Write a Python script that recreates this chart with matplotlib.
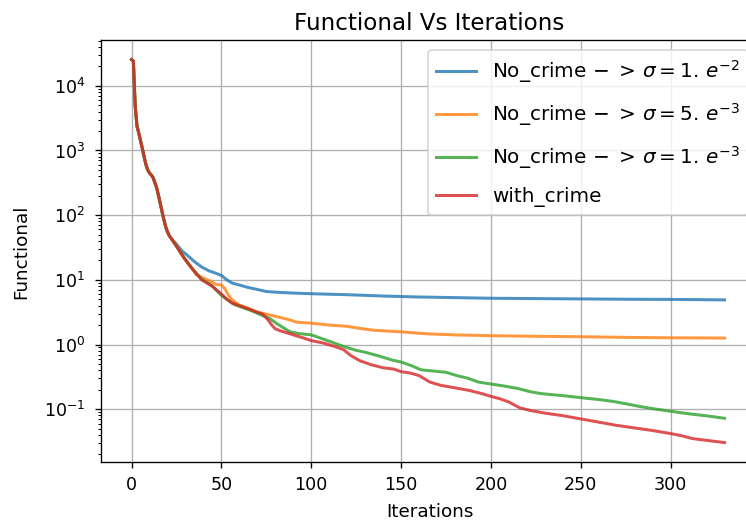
import matplotlib
matplotlib.use("Agg")
import matplotlib.pyplot as plt

# Shared start of every run (iterations 0-22, identical for all four cases)
head_iters = [0, 1, 2, 3, 4, 5, 6, 7, 8, 9, 10, 11, 12, 13, 14, 15, 16, 17, 18, 19, 20, 21, 22]
head_vals = [25400, 24000, 5000, 2400, 1860, 1410, 1070, 794, 603, 501, 447, 417, 380,
             316, 263, 200, 151, 112, 85, 66, 55, 48, 44]

# sigma = 1e-2
blue_iters = [25, 28, 31, 35, 39, 43, 47, 50, 53, 56, 60, 65, 70, 75, 80, 90, 100,
              120, 140, 160, 180, 200, 225, 250, 275, 300, 330]
blue_vals = [35.5, 28.2, 24.0, 19.1, 15.8, 13.8, 12.6, 11.7, 10.0, 8.9, 8.3, 7.6, 7.1,
             6.6, 6.45, 6.24, 6.10, 5.89, 5.62, 5.43, 5.31, 5.19, 5.13, 5.07, 5.01, 4.98, 4.90]

# sigma = 5e-3
orange_iters = [25, 29, 33, 36, 39, 43, 47, 50, 52, 54, 56, 60, 65, 70, 75, 81, 87, 92,
                100, 110, 120, 128, 135, 150, 165, 180, 200, 225, 250, 275, 300, 330]
orange_vals = [33.1, 22.4, 15.8, 12.0, 11.0, 9.77, 8.51, 8.32, 7.24, 5.75, 4.90, 4.07,
               3.63, 3.16, 2.95, 2.69, 2.45, 2.21, 2.14, 2.00, 1.91, 1.76, 1.66, 1.57,
               1.46, 1.41, 1.37, 1.34, 1.32, 1.29, 1.27, 1.26]

# sigma = 1e-3
green_iters = [25, 29, 33, 36, 39, 42, 45, 50, 53, 57, 62, 67, 72, 77, 81, 85, 88, 93,
               100, 105, 111, 118, 125, 130, 138, 145, 150, 156, 161, 168, 175, 181, 187,
               193, 200, 207, 215, 222, 228, 240, 250, 260, 268, 276, 283, 290, 300, 310,
               320, 330]
green_vals = [33.1, 22.4, 15.8, 12.6, 10.2, 9.12, 7.94, 5.75, 5.01, 4.17, 3.72, 3.31,
              2.88, 2.51, 2.09, 1.78, 1.58, 1.48, 1.41, 1.26, 1.10, 0.933, 0.813, 0.759,
              0.661, 0.575, 0.537, 0.468, 0.407, 0.389, 0.372, 0.331, 0.302, 0.263,
              0.245, 0.229, 0.209, 0.186, 0.174, 0.162, 0.151, 0.141, 0.132, 0.120,
              0.110, 0.102, 0.0930, 0.0850, 0.0790, 0.0725]

# with crime
red_iters = [25, 29, 33, 36, 39, 42, 45, 50, 53, 56, 60, 65, 70, 73, 76, 78, 80, 83, 87,
             90, 95, 100, 107, 113, 118, 122, 127, 133, 140, 146, 150, 155, 160, 166, 172,
             180, 188, 195, 200, 205, 210, 216, 222, 230, 240, 250, 260, 270, 280, 290,
             300, 306, 312, 320, 330]
red_vals = [33.1, 22.1, 15.8, 12.6, 10.0, 8.91, 7.94, 6.03, 5.01, 4.37, 3.98, 3.55, 3.16,
            2.95, 2.40, 2.00, 1.75, 1.62, 1.50, 1.41, 1.28, 1.15, 1.05, 0.933, 0.832,
            0.676, 0.562, 0.490, 0.437, 0.417, 0.380, 0.363, 0.331, 0.263, 0.234, 0.214,
            0.195, 0.174, 0.158, 0.145, 0.129, 0.105, 0.0955, 0.0871, 0.0794, 0.0708,
            0.0631, 0.0562, 0.0513, 0.0468, 0.0420, 0.0390, 0.0352, 0.0330, 0.0305]

labels = [r"No_crime $-\;>\,\sigma=1.\,e^{-2}$",
          r"No_crime $-\;>\,\sigma=5.\,e^{-3}$",
          r"No_crime $-\;>\,\sigma=1.\,e^{-3}$",
          "with_crime"]
colors = ["tab:blue", "tab:orange", "tab:green", "tab:red"]

series = [(blue_iters, blue_vals), (orange_iters, orange_vals),
          (green_iters, green_vals), (red_iters, red_vals)]

fig = plt.figure(figsize=(746 / 120, 525 / 120), dpi=120)
ax = fig.add_axes([0.1354, 0.1195, 0.8807, 0.8034])

for (it, vals), lab, col in zip(series, labels, colors):
    ax.plot(head_iters + it, head_vals + vals, color=col, label=lab, alpha=0.8, lw=1.8)

ax.set_yscale("log")
ax.set_ylim(10 ** -1.82, 10 ** 4.70)
ax.set_xlim(-17, 348.6)
ax.set_xticks([0, 50, 100, 150, 200, 250, 300])
ax.tick_params(labelsize=10.5)
ax.tick_params(axis="y", pad=6)
ax.tick_params(axis="x", pad=5)
ax.grid(True)
ax.set_title("Functional Vs Iterations", fontsize=13.8)
ax.set_xlabel("Iterations", fontsize=11, labelpad=5)
ax.set_ylabel("Functional", fontsize=11, labelpad=8)
ax.legend(loc="upper right", fontsize=12, labelspacing=0.8, handlelength=2.0)

fig.savefig("out.png", dpi=120)
